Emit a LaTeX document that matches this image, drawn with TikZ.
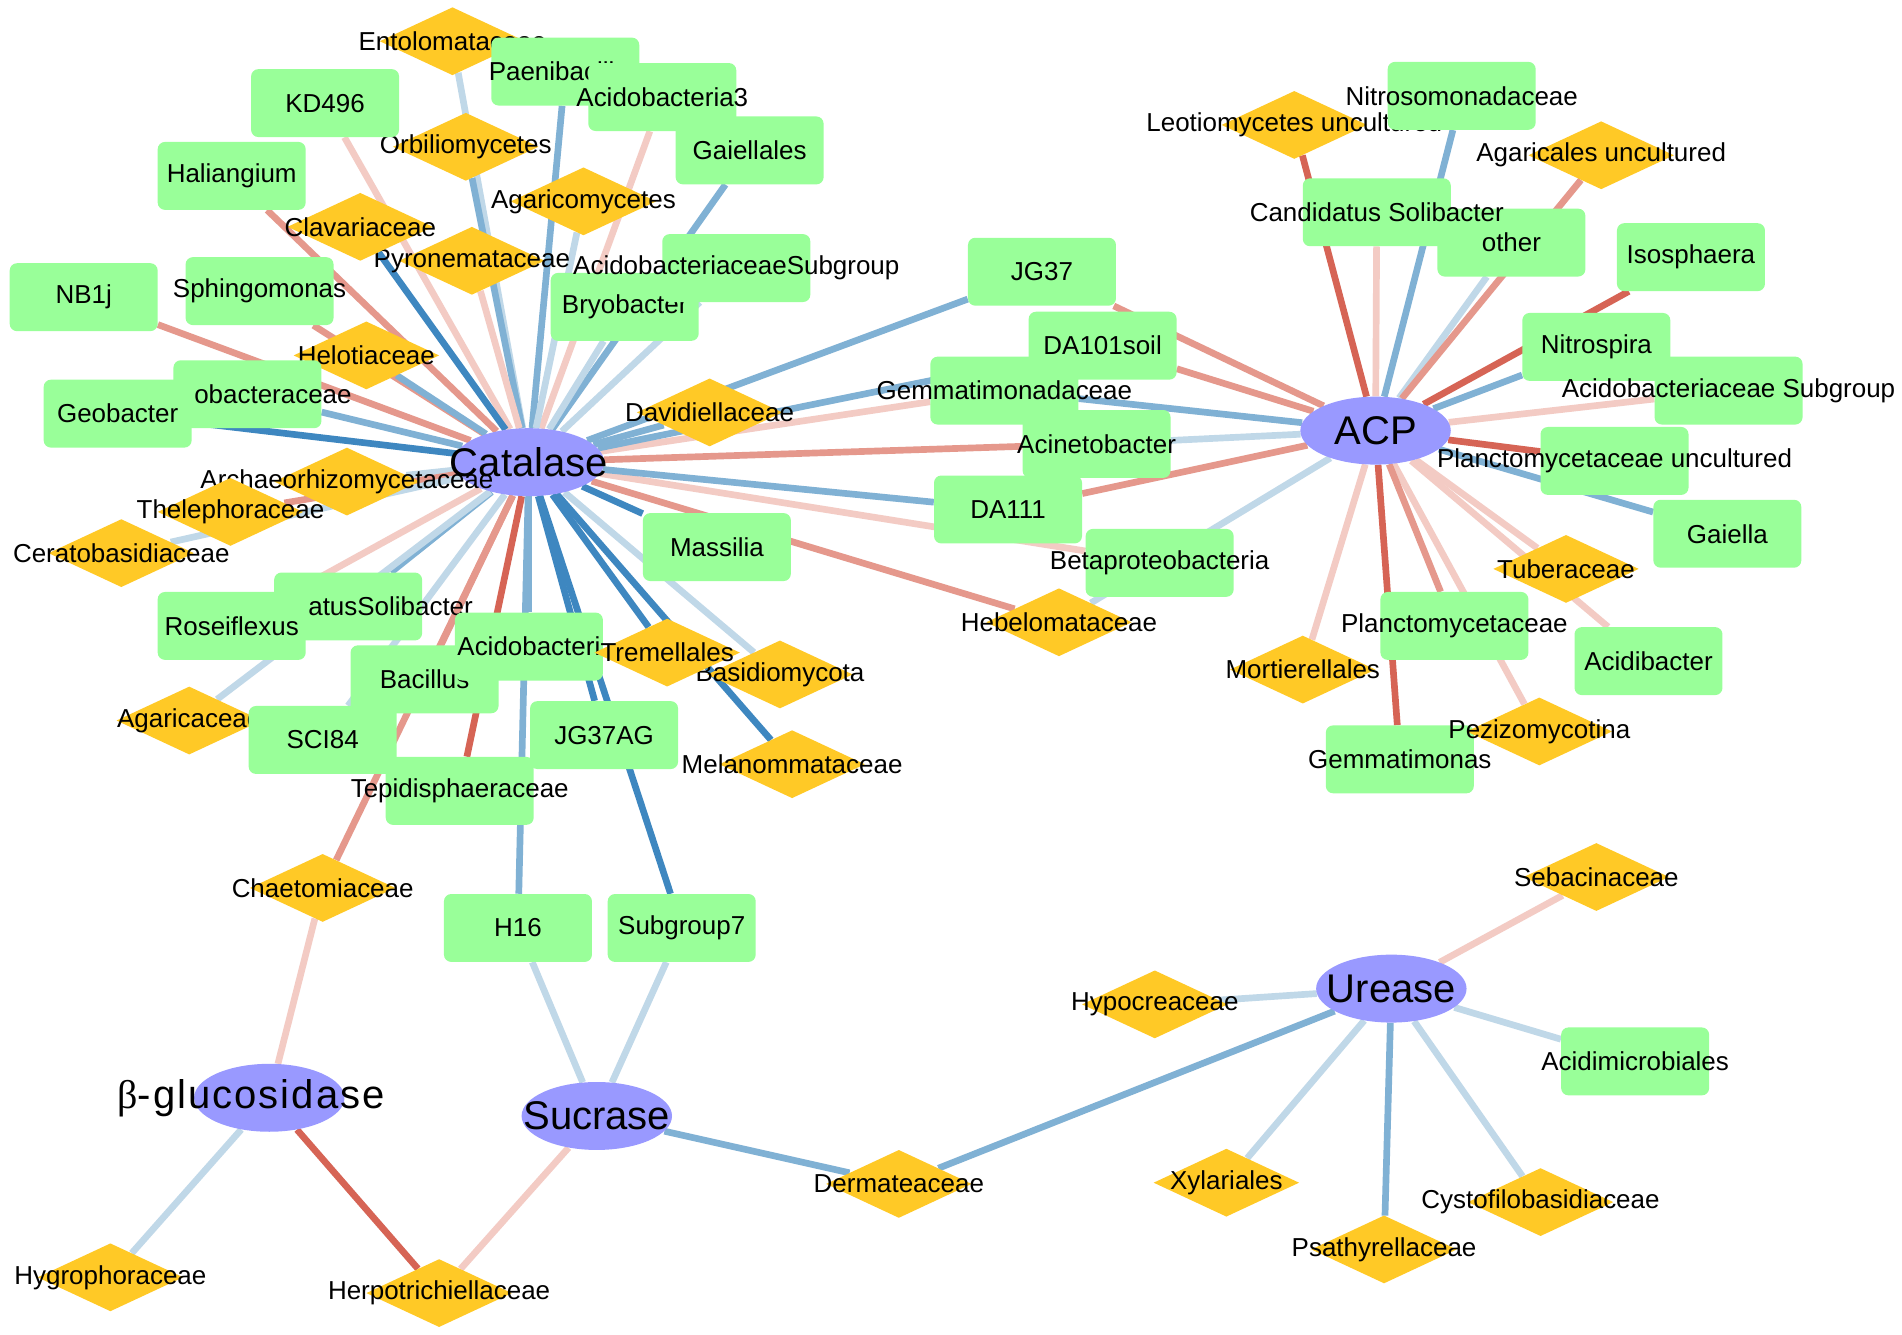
\documentclass[tikz,border=0pt]{standalone}
\usepackage{fontspec}
\setmainfont{Liberation Sans}
\newfontfamily\grfont{Liberation Serif}
\newfontfamily\spacedfont[LetterSpace=5]{Liberation Sans}
\usetikzlibrary{shapes.geometric}
\pgfdeclarelayer{bg}
\pgfsetlayers{bg,main}
\definecolor{boxg}{RGB}{153,255,153}
\definecolor{diag}{RGB}{255,201,38}
\definecolor{enzc}{RGB}{153,153,255}
\definecolor{cRD}{RGB}{214,100,85}
\definecolor{cRM}{RGB}{229,152,140}
\definecolor{cRL}{RGB}{243,203,196}
\definecolor{cBD}{RGB}{62,135,192}
\definecolor{cBM}{RGB}{128,177,212}
\definecolor{cBL}{RGB}{192,216,232}
\tikzset{
 bx/.style={rectangle, rounded corners=6pt, fill=boxg, minimum width=122pt, minimum height=56pt, inner sep=0pt},
 dm/.style={diamond, fill=diag, minimum width=120pt, minimum height=56pt, inner sep=0pt},
 enz/.style={ellipse, fill=enzc, minimum width=124pt, minimum height=56pt, inner sep=0pt},
 lab/.style={font=\fontsize{21.4}{24}\selectfont, inner sep=0pt},
 elab/.style={font=\fontsize{33}{36}\selectfont, inner sep=0pt},
 edge/.style={line width=5.5pt},
}
\begin{document}
\begin{tikzpicture}[x=1pt,y=-1pt]
\begin{pgfonlayer}{bg}
\fill[white] (0,0) rectangle (1568,1100);
\end{pgfonlayer}
\useasboundingbox (0,0) rectangle (1568,1100);

% ---- enzymes
\node[enz, label={[elab]center:Catalase}] (cat) at (436,381) {};
\node[enz, label={[elab]center:ACP}] (acp) at (1134,355) {};
\node[enz, label={[elab]center:Urease}] (ure) at (1147,815) {};
\node[enz, label={[elab]center:Sucrase}] (suc) at (492,920) {};
\node[enz, label={[elab,xshift=-15pt]center:{\grfont β}{\spacedfont -glucosidase}}] (bglu) at (222,905) {};

% ---- Catalase neighbours
\node[dm, label={[lab]center:Entolomataceae}] (ento) at (373,34) {};
\node[dm, label={[lab]center:Orbiliomycetes}] (orbi) at (384,121) {};
\node[bx, label={[lab]center:KD496}] (kd) at (268,85) {};
\node[bx, label={[lab]center:Paenibacillus}] (paen) at (466,59) {};
\node[bx, label={[lab]center:Acidobacteria3}] (acidIII) at (546,80) {};
\node[bx, label={[lab]center:Gaiellales}] (gaiellales) at (618,124) {};
\node[bx, label={[lab]center:Haliangium}] (hali) at (191,145) {};
\node[dm, label={[lab]center:Agaricomycetes}] (agmyc) at (481,166) {};
\node[dm, label={[lab]center:Pyronemataceae}] (pyro) at (389,215) {};
\node[dm, label={[lab]center:Clavariaceae}] (clav) at (297,187) {};
\node[bx, label={[lab]center:Sphingomonas}] (sphi) at (214,240) {};
\node[bx, label={[lab]center:NB1j}] (nb) at (69,245) {};
\node[dm, label={[lab]center:Helotiaceae}] (helo) at (302,293) {};
\node[bx, label={[lab,xshift=21pt]center:obacteraceae}] (geobac) at (204,325) {};
\node[bx, label={[lab]center:Geobacter}] (geob) at (97,341) {};
\node[dm, label={[lab]center:Davidiellaceae}] (davi) at (585,340) {};
\node[dm, label={[lab]center:Archaeorhizomycetaceae}] (archaeo) at (286,397) {};
\node[dm, label={[lab]center:Thelephoraceae}] (theleph) at (190,422) {};
\node[dm, label={[lab]center:Ceratobasidiaceae}] (cerato) at (100,456) {};
\node[bx, label={[lab,xshift=35pt]center:atusSolibacter}] (candsol) at (287,500) {};
\node[bx, label={[lab]center:Roseiflexus}] (rosei) at (191,516) {};
\node[dm, label={[lab]center:Agaricaceae}] (agcea) at (156,594) {};
\node[bx, label={[lab]center:Bacillus}] (bacil) at (350,560) {};
\node[bx, label={[lab]center:SCI84}] (sci) at (266,610) {};
\node[bx, label={[lab]center:Tepidisphaeraceae}] (tepid) at (379,652) {};
\node[bx, label={[lab]center:JG37AG}] (jgag) at (498,606) {};
\node[bx, label={[lab]center:Acidobacteri}] (acidob) at (436,533) {};
\node[dm, label={[lab]center:Basidiomycota}] (basid) at (643,556) {};
\node[dm, label={[lab]center:Tremellales}] (trem) at (550,538) {};
\node[dm, label={[lab]center:Melanommataceae}] (melan) at (653,630) {};
\node[bx, label={[lab]center:Massilia}] (massi) at (591,451) {};
\node[dm, label={[lab]center:Chaetomiaceae}] (chaeto) at (266,732) {};
\node[bx, label={[lab]center:H16}] (hsix) at (427,765) {};
\node[bx, label={[lab]center:Subgroup7}] (subg) at (562,765) {};
\node[bx, label={[lab]center:Bryobacter}] (bryo) at (515,253) {};
\node[bx, label={[lab]center:AcidobacteriaceaeSubgroup}] (acsub) at (607,221) {};
\node[bx, label={[lab]center:JG37}] (jg) at (859,224) {};
\node[bx, label={[lab]center:DA101soil}] (da101) at (909,285) {};
\node[bx, label={[lab]center:Gemmatimonadaceae}] (gemmac) at (828,322) {};
\node[bx, label={[lab]center:Acinetobacter}] (acin) at (904,366) {};
\node[bx, label={[lab]center:DA111}] (daeleven) at (831,420) {};
\node[bx, label={[lab]center:Betaproteobacteria}] (beta) at (956,464) {};
\node[dm, label={[lab]center:Hebelomataceae}] (hebe) at (873,513) {};

% ---- ACP neighbours
\node[dm, label={[lab]center:Leotiomycetes uncultured}] (leo) at (1067,103) {};
\node[bx, label={[lab]center:Nitrosomonadaceae}] (nitroso) at (1205,79) {};
\node[dm, label={[lab]center:Agaricales uncultured}] (agles) at (1320,128) {};
\node[bx, label={[lab]center:other}] (other) at (1246,200) {};
\node[bx, label={[lab]center:Candidatus Solibacter}] (cands) at (1135,175) {};
\node[bx, label={[lab]center:Isosphaera}] (iso) at (1394,212) {};
\node[bx, label={[lab]center:Nitrospira}] (nitrosp) at (1316,286) {};
\node[bx, label={[lab]center:Acidobacteriaceae Subgroup}] (acsubb) at (1425,322) {};
\node[bx, label={[lab]center:Planctomycetaceae uncultured}] (plu) at (1331,380) {};
\node[bx, label={[lab]center:Gaiella}] (gaiella) at (1424,440) {};
\node[dm, label={[lab]center:Tuberaceae}] (tuber) at (1291,469) {};
\node[bx, label={[lab]center:Planctomycetaceae}] (planc) at (1199,516) {};
\node[bx, label={[lab]center:Acidibacter}] (acidib) at (1359,545) {};
\node[dm, label={[lab]center:Mortierellales}] (morti) at (1074,552) {};
\node[bx, label={[lab]center:Gemmatimonas}] (gemmas) at (1154,626) {};
\node[dm, label={[lab]center:Pezizomycotina}] (pezi) at (1269,603) {};

% ---- Urease / Sucrase / beta-glucosidase neighbours
\node[dm, label={[lab]center:Sebacinaceae}] (seba) at (1316,723) {};
\node[dm, label={[lab]center:Hypocreaceae}] (hypo) at (952,828) {};
\node[bx, label={[lab]center:Acidimicrobiales}] (acimi) at (1348,875) {};
\node[dm, label={[lab]center:Xylariales}] (xyl) at (1011,975) {};
\node[dm, label={[lab]center:Cystofilobasidiaceae}] (cysto) at (1270,991) {};
\node[dm, label={[lab]center:Psathyrellaceae}] (psa) at (1141,1030) {};
\node[dm, label={[lab]center:Dermateaceae}] (derm) at (741,976) {};
\node[dm, label={[lab]center:Herpotrichiellaceae}] (herpo) at (362,1066) {};
\node[dm, label={[lab]center:Hygrophoraceae}] (hygro) at (91,1053) {};

% ---- connectors
\begin{pgfonlayer}{bg}
\foreach \n/\c in {ento/cBL, paen/cBM, acidIII/cRL, kd/cRL, orbi/cBM, gaiellales/cBM,
  hali/cRM, agmyc/cBL, clav/cBD, pyro/cRL, acsub/cBL, bryo/cBL, nb/cRM, sphi/cRM,
  helo/cBM, geobac/cBM, geob/cBD, davi/cBM, archaeo/cBL, theleph/cRM, cerato/cBL,
  rosei/cRL, candsol/cBM, agcea/cBL, bacil/cRM, acidob/cBM, sci/cBL, tepid/cRD,
  chaeto/cRM, hsix/cBM, jgag/cBD, subg/cBD, trem/cBD, basid/cBL, melan/cBD,
  massi/cBD, hebe/cRM, beta/cRL, daeleven/cBM, acin/cRM, gemmac/cRL, da101/cBM, jg/cBM}
  {\draw[edge, draw=\c] (cat) -- (\n);}
\foreach \n/\c in {leo/cRD, nitroso/cBM, cands/cRL, other/cBL, agles/cRM, iso/cRD,
  nitrosp/cBM, acsubb/cRL, plu/cRD, gaiella/cBM, tuber/cRL, acidib/cRL, pezi/cRL,
  planc/cRM, gemmas/cRD, morti/cRL, hebe/cBL, daeleven/cRM, acin/cBL, gemmac/cBM,
  da101/cRM, jg/cRM}
  {\draw[edge, draw=\c] (acp) -- (\n);}
\foreach \n/\c in {seba/cRL, hypo/cBL, acimi/cBL, derm/cBM, xyl/cBL, psa/cBM, cysto/cBL}
  {\draw[edge, draw=\c] (ure) -- (\n);}
\foreach \n/\c in {hsix/cBL, subg/cBL, derm/cBM, herpo/cRL}
  {\draw[edge, draw=\c] (suc) -- (\n);}
\foreach \n/\c in {chaeto/cRL, hygro/cBL, herpo/cRD}
  {\draw[edge, draw=\c] (bglu) -- (\n);}
\end{pgfonlayer}
\end{tikzpicture}
\end{document}
